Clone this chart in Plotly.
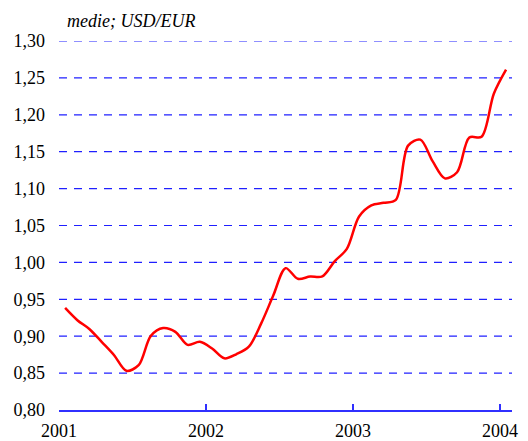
import plotly.graph_objects as go

months = [f"{y}-{m:02d}" for y in (2001, 2002, 2003) for m in range(1, 13)] + ["2004-01"]
usd_eur = [0.9383, 0.9217, 0.9095, 0.8920, 0.8742, 0.8532, 0.8607, 0.9005, 0.9111, 0.9059, 0.8883, 0.8924,
           0.8833, 0.8700, 0.8758, 0.8858, 0.9170, 0.9554, 0.9922, 0.9778, 0.9808, 0.9811, 1.0014, 1.0183,
           1.0622, 1.0773, 1.0807, 1.0848, 1.1582, 1.1663, 1.1372, 1.1139, 1.1222, 1.1692, 1.1702, 1.2286,
           1.2613]
year_ticks = [2001, 2002, 2003, 2004]
year_labels = ["2001", "2002", "2003", "2004"]
y_ticks = [0.80, 0.85, 0.90, 0.95, 1.00, 1.05, 1.10, 1.15, 1.20, 1.25, 1.30]
y_labels = ["0,80", "0,85", "0,90", "0,95", "1,00", "1,05", "1,10", "1,15", "1,20", "1,25", "1,30"]

# mid-month positions in decimal years
x_vals = [int(s[:4]) + (int(s[5:]) - 0.5) / 12 for s in months]

SERIF = "Liberation Serif, Times New Roman, serif"

fig = go.Figure()
fig.add_trace(go.Scatter(
    x=x_vals, y=usd_eur, mode="lines",
    line=dict(color="#FF0000", width=2.5, shape="spline", smoothing=0.9),
    hoverinfo="skip", showlegend=False,
))

# dashed gridlines
for v in y_ticks[1:]:
    fig.add_shape(type="line", xref="paper", x0=0, x1=1, yref="y", y0=v, y1=v,
                  line=dict(color="#2020FF", width=1.2, dash="8px,7px"), layer="below")

fig.update_layout(
    width=528, height=441,
    margin=dict(l=59, r=16, t=41, b=31, autoexpand=False),
    paper_bgcolor="white", plot_bgcolor="white",
    font=dict(family=SERIF, size=18, color="black"),
    xaxis=dict(range=[2001, 2004.082], tickvals=year_ticks, ticktext=year_labels,
               showgrid=False, zeroline=False, showline=True, linecolor="#3030FF", linewidth=1.5,
               ticks="inside", ticklen=6, tickwidth=1.5, tickcolor="#3030FF",
               tickfont=dict(family=SERIF, size=18, color="black"),
               ticklabelstandoff=4, automargin=False, fixedrange=True),
    yaxis=dict(range=[0.80, 1.30], tickvals=y_ticks, ticktext=y_labels,
               showgrid=False, zeroline=False, showline=False,
               tickfont=dict(family=SERIF, size=18, color="black"),
               ticks="", ticklabelstandoff=13, automargin=False, fixedrange=True),
    annotations=[dict(text="<i>medie; USD/EUR</i>", xref="paper", yref="paper",
                      x=0.014, y=1, xanchor="left", yanchor="middle", yshift=20,
                      showarrow=False, font=dict(family=SERIF, size=18, color="black"))],
)

fig.write_html("out.html", config={"displayModeBar": False},
               post_script="document.body.style.margin='0';document.body.style.padding='0';")
